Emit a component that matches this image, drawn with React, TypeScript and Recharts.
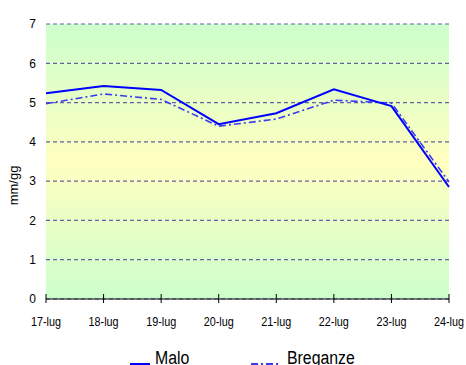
import * as React from 'react';
import { LineChart, Line, XAxis, YAxis, CartesianGrid } from 'recharts';

const days = ['17-lug', '18-lug', '19-lug', '20-lug', '21-lug', '22-lug', '23-lug', '24-lug'];
const malo = [5.24, 5.42, 5.32, 4.45, 4.73, 5.34, 4.91, 2.85];
const breganze = [4.97, 5.22, 5.08, 4.4, 4.58, 5.06, 4.99, 2.98];
const yTicks = [0, 1, 2, 3, 4, 5, 6, 7];

const data = days.map((day, i) => ({ day, Malo: malo[i], Breganze: breganze[i] }));

const FONT = "'Liberation Sans Narrow', 'Liberation Sans', Arial, sans-serif";
const BREGANZE_DASH = '7 3 2 3';

function DayTick(props: any) {
  const { x, y, payload } = props;
  return (
    <g>
      <line x1={x} x2={x} y1={y - 5} y2={y + 4} stroke="#000" strokeWidth={1} />
      <text
        x={x}
        y={y + 27}
        textAnchor="middle"
        fontSize={12}
        fontFamily={FONT}
        fill="#000"
        transform={`translate(${x} 0) scale(0.9 1) translate(${-x} 0)`}
      >
        {payload.value}
      </text>
    </g>
  );
}

export default function App() {
  return (
    <div style={{ position: 'relative', width: 466, height: 365, background: '#fff', overflow: 'hidden' }}>
      <style>{'body{margin:0}'}</style>
      <LineChart width={466} height={365} data={data} margin={{ top: 24, right: 17, left: 0, bottom: 0 }}>
        <defs>
          <linearGradient id="plotBg" x1="0" y1="0" x2="0" y2="1">
            <stop offset="0%" stopColor="#ccffcc" />
            <stop offset="50%" stopColor="#ffffc0" />
            <stop offset="100%" stopColor="#ccffcc" />
          </linearGradient>
        </defs>
        <CartesianGrid
          vertical={false}
          fill="url(#plotBg)"
          fillOpacity={1}
          stroke="#6262a4"
          strokeDasharray="4 3"
          strokeWidth={1.2}
        />
        <XAxis
          dataKey="day"
          height={66}
          axisLine={{ stroke: '#000', strokeWidth: 1 }}
          tickLine={false}
          tickSize={0}
          tickMargin={0}
          tick={<DayTick />}
          interval={0}
        />
        <YAxis
          width={46}
          domain={[0, 7]}
          ticks={yTicks}
          axisLine={false}
          tickLine={false}
          tickSize={0}
          tickMargin={10}
          tick={{ fontSize: 12, fontFamily: FONT, fill: '#000' }}
          label={{
            value: 'mm/gg',
            angle: -90,
            position: 'insideLeft',
            dx: 8,
            dy: 24,
            style: { fontSize: 13, fontFamily: FONT, fill: '#000', textAnchor: 'middle' },
          }}
        />
        <Line
          dataKey="Breganze"
          stroke="#3a3af0"
          strokeWidth={1.6}
          strokeDasharray={BREGANZE_DASH}
          dot={false}
          isAnimationActive={false}
        />
        <Line dataKey="Malo" stroke="#0000ff" strokeWidth={2} dot={false} isAnimationActive={false} />
      </LineChart>
      <div style={{ position: 'absolute', left: 0, top: 348, width: 466, fontFamily: FONT, fontSize: 18, color: '#000' }}>
        <svg width={30} height={6} style={{ position: 'absolute', left: 130, top: 13 }}>
          <line x1={0} x2={20} y1={3} y2={3} stroke="#0000ff" strokeWidth={2} />
        </svg>
        <span style={{ position: 'absolute', left: 155, top: 0, transform: 'scaleX(0.88)', transformOrigin: 'left' }}>
          Malo
        </span>
        <svg width={30} height={6} style={{ position: 'absolute', left: 251, top: 13 }}>
          <line x1={0} x2={29} y1={3} y2={3} stroke="#3a3af0" strokeWidth={2} strokeDasharray={BREGANZE_DASH} />
        </svg>
        <span style={{ position: 'absolute', left: 287, top: 0, transform: 'scaleX(0.88)', transformOrigin: 'left' }}>
          Breganze
        </span>
      </div>
    </div>
  );
}
